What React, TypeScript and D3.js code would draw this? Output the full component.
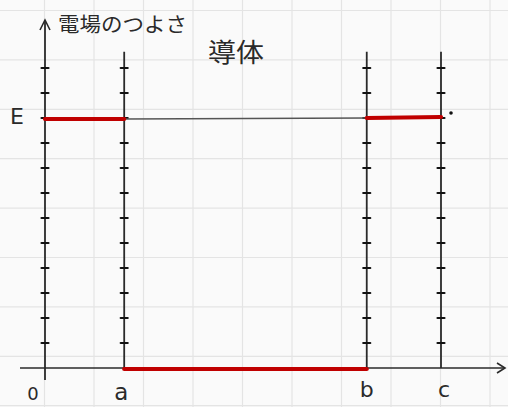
import React from "react";
import * as d3 from "d3";

// Positions along the radial axis (conductor boundaries) and field strength
const boundaryLabels = ["0", "a", "b", "c"];
const boundaryValues = [0, 1.6, 6.5, 8.0];
// Field strength per region: [start, end, value]
const regionStart = [0, 1.6, 6.5];
const regionEnd = [1.6, 6.5, 8.0];
const regionField = [10, 0, 10];
const fieldLevelLabel = "E";
const fieldLevel = 10;
const tickValues = d3.range(1, 13);

const W = 508;
const H = 407;

export default function App() {
  const x = d3.scaleLinear().domain([0, 8]).range([45, 441]);
  const y = d3.scaleLinear().domain([0, 12]).range([368, 68]);

  const ink = "#2a2a2a";
  const red = "#c00000";

  // paper grid
  const gridX = d3.range(-5, W, 49.5);
  const gridY = d3.range(10.5, H, 49.4);

  const lineTop = y(12.65);

  // label placement per boundary
  const labelDx = [-12, -3, 0, 3];
  const labelY = [400, 400, 397, 397];
  const labelSize = [18, 23, 22, 22];

  return (
    <svg
      width={W}
      height={H}
      style={{ position: "absolute", left: 0, top: 0, background: "#fafafa" }}
    >
      <rect width={W} height={H} fill="#fafafa" />
      {gridX.map((gx, i) => (
        <line key={"gx" + i} x1={gx} x2={gx} y1={0} y2={H} stroke="#e4e4e4" strokeWidth={1.2} />
      ))}
      {gridY.map((gy, i) => (
        <line key={"gy" + i} x1={0} x2={W} y1={gy} y2={gy} stroke="#e4e4e4" strokeWidth={1.2} />
      ))}

      {/* axes */}
      <line x1={x(0)} x2={x(0)} y1={380} y2={21} stroke={ink} strokeWidth={1.8} />
      <polyline
        points={`${x(0) - 5},${30} ${x(0)},${20} ${x(0) + 5},${30}`}
        fill="none"
        stroke={ink}
        strokeWidth={1.6}
      />
      <line x1={20} x2={505} y1={y(0)} y2={y(0)} stroke={ink} strokeWidth={1.6} />
      <polyline
        points={`${497},${y(0) - 5} ${505},${y(0)} ${497},${y(0) + 5}`}
        fill="none"
        stroke={ink}
        strokeWidth={1.6}
      />

      {/* boundary lines with ticks */}
      {boundaryValues.slice(1).map((b, i) => (
        <line
          key={"bl" + i}
          x1={x(b)}
          x2={x(b)}
          y1={lineTop}
          y2={y(0)}
          stroke={ink}
          strokeWidth={1.8}
        />
      ))}
      {boundaryValues.map((b, i) =>
        tickValues.map((t) => (
          <line
            key={"t" + i + "-" + t}
            x1={x(b) - 3.5}
            x2={x(b) + 3.5}
            y1={y(t)}
            y2={y(t)}
            stroke="#111"
            strokeWidth={2.2}
            strokeLinecap="round"
          />
        ))
      )}

      {/* guide at E across the shell gap */}
      <line
        x1={x(regionEnd[0])}
        x2={x(regionStart[2])}
        y1={y(fieldLevel) + 1}
        y2={y(fieldLevel)}
        stroke="#555"
        strokeWidth={1.4}
      />

      {/* field strength */}
      {regionField.map((v, i) => (
        <line
          key={"f" + i}
          x1={x(regionStart[i])}
          x2={x(regionEnd[i])}
          y1={y(v) + (i === 2 ? 0 : 1)}
          y2={y(v) + (i === 2 ? -1 : 1)}
          stroke={red}
          strokeWidth={4.2}
          strokeLinecap="round"
        />
      ))}
      <circle cx={x(8) + 10} cy={y(fieldLevel) - 5} r={1.8} fill="#111" />

      {/* labels */}
      <text
        x={17}
        y={y(fieldLevel) + 6}
        textAnchor="middle"
        fontFamily="'DejaVu Sans', sans-serif"
        fontSize={22}
        fill={ink}
      >
        {fieldLevelLabel}
      </text>
      {boundaryValues.map((b, i) => (
        <text
          key={"bl-t" + i}
          x={x(b) + labelDx[i]}
          y={labelY[i]}
          textAnchor="middle"
          fontFamily="'DejaVu Sans', sans-serif"
          fontSize={labelSize[i]}
          fill={ink}
        >
          {boundaryLabels[i]}
        </text>
      ))}
      <text
        x={58}
        y={32}
        fontFamily="'Noto Sans CJK JP', sans-serif"
        fontSize={20}
        fill={ink}
        textLength={129}
        lengthAdjust="spacingAndGlyphs"
      >
        電場のつよさ
      </text>
      <text
        x={208}
        y={62}
        fontFamily="'Noto Sans CJK JP', sans-serif"
        fontSize={26}
        fill={ink}
        textLength={56}
        lengthAdjust="spacingAndGlyphs"
      >
        導体
      </text>
    </svg>
  );
}
